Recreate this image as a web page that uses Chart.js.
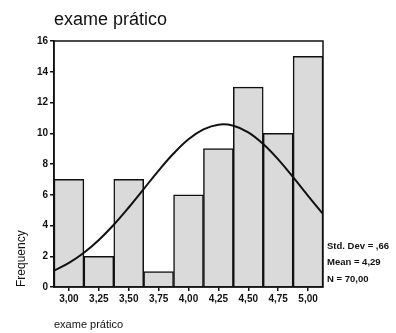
<!DOCTYPE html>
<html><head><meta charset="utf-8">
<script src="https://cdn.jsdelivr.net/npm/chart.js@4.4.1/dist/chart.umd.min.js"></script>
<style>html,body{margin:0;padding:0;background:#fff}#wrap{width:396px;height:333px}</style>
</head><body><div id="wrap"><canvas id="c" width="396" height="333"></canvas></div>
<script>
const chartTitle = 'exame prático';
const xAxisTitle = 'exame prático';
const yAxisTitle = 'Frequency';
const categories = ['3,00','3,25','3,50','3,75','4,00','4,25','4,50','4,75','5,00'];
const frequencies = [7, 2, 7, 1, 6, 9, 13, 10, 15];
// normal curve (x in score units, y in frequency)
const curveX = [2.875,3.0,3.125,3.25,3.375,3.5,3.625,3.75,3.875,4.0,4.125,4.25,4.375,4.5,4.625,4.75,4.875,5.0,5.125];
const curveY = [1.06,1.57,2.23,3.06,4.05,5.17,6.37,7.57,8.68,9.61,10.25,10.56,10.49,10.06,9.30,8.30,7.14,5.93,4.75];
const statsLines = ['Std. Dev = ,66', 'Mean = 4,29', 'N = 70,00'];
const yTicks = {min: 0, max: 16, step: 2};

const FONT = '"Liberation Sans", Arial, sans-serif';

const framePlugin = {
  id: 'frame',
  afterDatasetsDraw(chart) {
    const {ctx, chartArea: a} = chart;
    ctx.save();
    ctx.strokeStyle = '#111';
    ctx.lineWidth = 1.5;
    ctx.strokeRect(a.left, a.top, a.right - a.left, a.bottom - a.top);
    ctx.restore();
  },
  afterDraw(chart) {
    const {ctx, chartArea: a} = chart;
    ctx.save();
    ctx.fillStyle = '#111';
    ctx.textBaseline = 'alphabetic';
    ctx.textAlign = 'left';
    ctx.font = '18px ' + FONT;
    ctx.fillText(chartTitle, a.left, 25);
    ctx.font = 'bold 9.5px ' + FONT;
    ctx.textBaseline = 'middle';
    statsLines.forEach((s, i) => ctx.fillText(s, a.right + 4, a.bottom - 41 + i * 16.5));
    ctx.restore();
  }
};

new Chart(document.getElementById('c'), {
  type: 'bar',
  data: {
    labels: categories,
    datasets: [
      {
        type: 'line',
        data: curveX.map((x, i) => ({x: x, y: curveY[i]})),
        xAxisID: 'xl',
        borderColor: '#111',
        borderWidth: 2,
        pointRadius: 0,
        tension: 0.4,
        fill: false,
        order: 0
      },
      {
        type: 'bar',
        data: frequencies,
        xAxisID: 'x',
        backgroundColor: '#dadada',
        borderColor: '#111',
        borderWidth: 1.5,
        barPercentage: 1,
        categoryPercentage: 1,
        order: 1
      }
    ]
  },
  options: {
    responsive: false,
    animation: false,
    devicePixelRatio: 1,
    datasets: {bar: {barPercentage: 1, categoryPercentage: 1, grouped: false}},
    layout: {padding: {left: 0, top: 41, right: 73, bottom: 0}},
    plugins: {legend: {display: false}, tooltip: {enabled: false}, title: {display: false}},
    scales: {
      x: {
        type: 'category',
        offset: true,
        grid: {offset: false, drawOnChartArea: false, drawTicks: true, tickLength: 4, color: '#111', lineWidth: 1.5},
        border: {display: true, color: '#111', width: 1.5},
        ticks: {color: '#111', padding: 2, font: {family: FONT, size: 10, weight: 'bold'}, maxRotation: 0},
        title: {display: true, text: xAxisTitle, align: 'start', color: '#111', font: {family: FONT, size: 11}, padding: {top: 0, bottom: 1}},
        afterFit(s) { s.height = 46; }
      },
      xl: {
        type: 'linear',
        display: false,
        offset: false,
        min: 2.875,
        max: 5.125
      },
      y: {
        min: yTicks.min,
        max: yTicks.max,
        grid: {drawOnChartArea: false, drawTicks: true, tickLength: 4, color: '#111', lineWidth: 1.5},
        border: {display: true, color: '#111', width: 1.5},
        ticks: {stepSize: yTicks.step, color: '#111', padding: 2, font: {family: FONT, size: 10, weight: 'bold'}},
        title: {display: true, text: yAxisTitle, align: 'start', color: '#111', font: {family: FONT, size: 12}, padding: {top: 14, bottom: 0}},
        afterFit(s) { s.width = 54; }
      }
    }
  },
  plugins: [framePlugin]
});
</script>
</body></html>
